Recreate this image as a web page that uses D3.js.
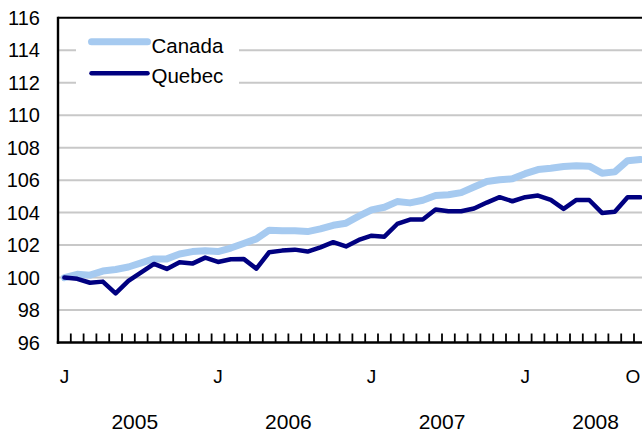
<!DOCTYPE html>
<html>
<head>
<meta charset="utf-8">
<script src="https://cdn.jsdelivr.net/npm/d3@7"></script>
<style>
  html, body { margin: 0; padding: 0; background: #fff; overflow: hidden; }
  svg { display: block; font-family: "Liberation Sans", Arial, Helvetica, sans-serif; }
</style>
</head>
<body>
<div id="chart"></div>
<script>
// monthly index, Jan 2005 = 100
var canada = [100.0, 100.2, 100.15, 100.4, 100.5, 100.65, 100.9, 101.15, 101.15, 101.45, 101.6, 101.65,
  101.6, 101.82, 102.1, 102.38, 102.92, 102.88, 102.88, 102.83, 103.0, 103.22, 103.35, 103.78,
  104.17, 104.33, 104.68, 104.6, 104.76, 105.05, 105.1, 105.23, 105.58, 105.92, 106.02, 106.08,
  106.4, 106.65, 106.73, 106.84, 106.88, 106.86, 106.43, 106.51, 107.2, 107.27];
var quebec = [100.0, 99.92, 99.68, 99.75, 99.03, 99.8, 100.32, 100.84, 100.53, 100.94, 100.86, 101.23,
  100.96, 101.13, 101.15, 100.55, 101.56, 101.66, 101.72, 101.6, 101.86, 102.18, 101.92, 102.32,
  102.58, 102.52, 103.3, 103.57, 103.57, 104.19, 104.08, 104.08, 104.25, 104.62, 104.95, 104.7,
  104.95, 105.05, 104.78, 104.23, 104.78, 104.78, 103.98, 104.05, 104.95, 104.95];

var tickMonths = [0, 12, 24, 36, 45];
var tickText = ['J', 'J', 'J', 'J', 'O'];
var years = ['2005', '2006', '2007', '2008'];
var yTicks = [96, 98, 100, 102, 104, 106, 108, 110, 112, 114, 116];
var seriesNames = ['Canada', 'Quebec'];
var seriesColors = ['#a6caf0', '#000080'];

var width = 642, height = 437;

var svg = d3.select('#chart').append('svg')
  .attr('width', width)
  .attr('height', height);

var x = d3.scaleLinear().domain([-0.5, 45.5]).range([58, 58 + 46 * 12.8]);
var y = d3.scaleLinear().domain([96, 116]).range([342.5, 17.8]);

// grid
svg.append('g')
  .selectAll('line')
  .data(yTicks.filter(function (d) { return d > 96 && d < 116; }))
  .enter().append('line')
  .attr('x1', x(-0.5)).attr('x2', width)
  .attr('y1', function (d) { return y(d); })
  .attr('y2', function (d) { return y(d); })
  .attr('stroke', '#c8c8c8')
  .attr('stroke-width', 2);

// top border
svg.append('line')
  .attr('x1', x(-0.5)).attr('x2', width)
  .attr('y1', y(116)).attr('y2', y(116))
  .attr('stroke', '#000').attr('stroke-width', 2);

// y labels
svg.append('g')
  .selectAll('text')
  .data(yTicks)
  .enter().append('text')
  .attr('x', 40)
  .attr('y', function (d) { return y(d); })
  .attr('dy', '0.35em')
  .attr('text-anchor', 'end')
  .attr('font-size', 20)
  .text(function (d) { return d; });

// legend background + entries
var legend = svg.append('g');
legend.append('rect')
  .attr('x', 76).attr('y', 26)
  .attr('width', 163).attr('height', 68)
  .attr('fill', '#fff');

var legendY = [41.7, 73.3];
seriesNames.forEach(function (name, k) {
  legend.append('line')
    .attr('x1', 91.5).attr('x2', 147.5)
    .attr('y1', legendY[k]).attr('y2', legendY[k])
    .attr('stroke', seriesColors[k])
    .attr('stroke-width', k === 0 ? 7 : 4.5)
    .attr('stroke-linecap', 'round');
  legend.append('text')
    .attr('x', 151.5)
    .attr('y', legendY[k] + 11.5 - k * 2)
    .attr('font-size', 20.5)
    .text(name);
});

// series
var line = d3.line()
  .x(function (d, i) { return x(i); })
  .y(function (d) { return y(d); });

svg.append('path')
  .datum(canada)
  .attr('d', line)
  .attr('fill', 'none')
  .attr('stroke', seriesColors[0])
  .attr('stroke-width', 7)
  .attr('stroke-linejoin', 'round')
  .attr('stroke-linecap', 'round');

svg.append('path')
  .datum(quebec)
  .attr('d', line)
  .attr('fill', 'none')
  .attr('stroke', seriesColors[1])
  .attr('stroke-width', 4.5)
  .attr('stroke-linejoin', 'round')
  .attr('stroke-linecap', 'round');

// axes
svg.append('line')
  .attr('x1', x(-0.5)).attr('x2', x(-0.5))
  .attr('y1', y(116) - 1).attr('y2', y(96) + 1.2)
  .attr('stroke', '#000').attr('stroke-width', 2.4);

svg.append('line')
  .attr('x1', x(-0.5) - 1.2).attr('x2', width)
  .attr('y1', y(96)).attr('y2', y(96))
  .attr('stroke', '#000').attr('stroke-width', 2.4);

svg.append('g')
  .selectAll('line')
  .data(d3.range(0.5, 45.6, 1))
  .enter().append('line')
  .attr('x1', function (d) { return x(d); })
  .attr('x2', function (d) { return x(d); })
  .attr('y1', y(96)).attr('y2', y(96) - 9)
  .attr('stroke', '#000').attr('stroke-width', 1.8);

// month labels; the last one is pulled in so it stays inside the page
svg.append('g')
  .selectAll('text')
  .data(tickMonths)
  .enter().append('text')
  .attr('x', function (d) { return Math.min(x(d), width - 1); })
  .attr('y', 383)
  .attr('text-anchor', function (d) { return x(d) > width - 8 ? 'end' : 'middle'; })
  .attr('font-size', 19)
  .text(function (d, i) { return tickText[i]; });

// year labels
svg.append('g')
  .selectAll('text')
  .data(years)
  .enter().append('text')
  .attr('x', function (d, i) { return x(i * 12 + 5.5); })
  .attr('y', 428.5)
  .attr('text-anchor', 'middle')
  .attr('font-size', 21)
  .text(function (d) { return d; });
</script>
</body>
</html>
